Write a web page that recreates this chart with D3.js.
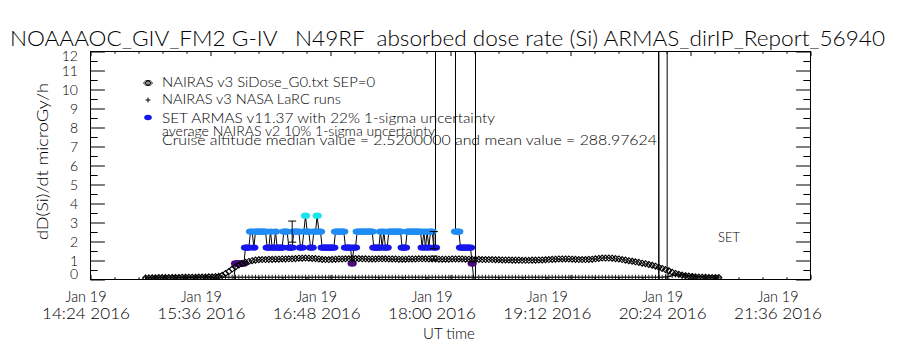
<!DOCTYPE html>
<html>
<head>
<meta charset="utf-8">
<script src="https://cdn.jsdelivr.net/npm/d3@7"></script>
<style>
  body { margin: 0; background: #fff; }
  svg text { font-family: Lato, "DejaVu Sans", sans-serif; font-weight: 300; fill: #000; white-space: pre; }
</style>
</head>
<body>
<div id="chart"></div>
<script>
// ---- data ----
const titleText = "NOAAAOC_GIV_FM2 G-IV   N49RF  absorbed dose rate (Si) ARMAS_dirIP_Report_56940";
const xTickTimes = ["14:24", "15:36", "16:48", "18:00", "19:12", "20:24", "21:36"];
const xTickDay = "Jan 19";
const xTickYear = "2016";
const yTickValues = [0, 1, 2, 3, 4, 5, 6, 7, 8, 9, 10, 11, 12];

const legendLabels = [
    "NAIRAS v3 SiDose_G0.txt SEP=0",
    "NAIRAS v3 NASA LaRC runs",
    "SET ARMAS v11.37 with 22% 1-sigma uncertainty",
    "average NAIRAS v2 10% 1-sigma uncertainty",
    "Cruise altitude median value = 2.5200000 and mean value = 288.97624"
];

// NAIRAS v3 SiDose, one value every 2 minutes from 14:57
const nairasStart = "14:57";
const nairasStepMin = 2;
const nairasDose = [
    0.08, 0.08, 0.09, 0.09, 0.10, 0.10, 0.10, 0.10, 0.11, 0.11, 0.11, 0.12, 0.12, 0.12, 0.12,
    0.12, 0.13, 0.13, 0.13, 0.14, 0.14, 0.15, 0.17, 0.22, 0.32, 0.42, 0.55, 0.66, 0.76, 0.84,
    0.90, 0.95, 0.99, 1.02, 1.04, 1.05, 1.05, 1.06, 1.06, 1.07, 1.07, 1.08, 1.08, 1.09, 1.09,
    1.10, 1.12, 1.12, 1.13, 1.12, 1.11, 1.10, 1.08, 1.06, 1.05, 1.05, 1.06, 1.07, 1.08, 1.08,
    1.09, 1.09, 1.10, 1.10, 1.10, 1.09, 1.09, 1.08, 1.08, 1.08, 1.09, 1.09, 1.09, 1.08, 1.08,
    1.08, 1.07, 1.07, 1.07, 1.08, 1.08, 1.08, 1.09, 1.09, 1.09, 1.08, 1.08, 1.08, 1.07, 1.07,
    1.07, 1.07, 1.08, 1.08, 1.08, 1.08, 1.07, 1.07, 1.06, 1.06, 1.06, 1.05, 1.05, 1.05, 1.05,
    1.04, 1.04, 1.03, 1.03, 1.03, 1.02, 1.02, 1.02, 1.01, 1.01, 1.01, 1.02, 1.02, 1.03, 1.03,
    1.04, 1.05, 1.06, 1.07, 1.08, 1.08, 1.08, 1.08, 1.07, 1.06, 1.05, 1.05, 1.05, 1.06, 1.07,
    1.09, 1.11, 1.13, 1.13, 1.13, 1.12, 1.10, 1.08, 1.05, 1.02, 0.99, 0.96, 0.93, 0.90, 0.86,
    0.83, 0.79, 0.75, 0.70, 0.64, 0.58, 0.52, 0.46, 0.38, 0.32, 0.27, 0.23, 0.20, 0.18, 0.16,
    0.14, 0.13, 0.12, 0.12, 0.11, 0.10, 0.10, 0.10
];

// NAIRAS v3 NASA LaRC runs, same time steps
const larcDose = [
    0.12, 0.12, 0.12, 0.12, 0.12, 0.12, 0.12, 0.12, 0.12, 0.12, 0.12, 0.12, 0.12, 0.12, 0.12,
    0.12, 0.12, 0.12, 0.12, 0.12, 0.12, 0.12, 0.12, 0.12, 0.12, 0.12, 0.12, 0.12, 0.12, 0.12,
    0.12, 0.12, 0.12, 0.12, 0.12, 0.12, 0.12, 0.12, 0.12, 0.12, 0.12, 0.12, 0.12, 0.12, 0.12,
    0.12, 0.12, 0.12, 0.12, 0.12, 0.12, 0.12, 0.12, 0.12, 0.12, 0.12, 0.12, 0.12, 0.12, 0.12,
    0.12, 0.12, 0.12, 0.12, 0.12, 0.12, 0.12, 0.12, 0.12, 0.12, 0.12, 0.12, 0.12, 0.12, 0.12,
    0.12, 0.12, 0.12, 0.12, 0.12, 0.12, 0.12, 0.12, 0.12, 0.12, 0.12, 0.12, 0.12, 0.12, 0.12,
    0.12, 0.12, 0.12, 0.12, 0.12, 0.12, 0.12, 0.12, 0.12, 0.12, 0.12, 0.12, 0.12, 0.12, 0.12,
    0.12, 0.12, 0.12, 0.12, 0.12, 0.12, 0.12, 0.12, 0.12, 0.12, 0.12, 0.12, 0.12, 0.12, 0.12,
    0.12, 0.12, 0.12, 0.12, 0.12, 0.12, 0.12, 0.12, 0.12, 0.12, 0.12, 0.12, 0.12, 0.12, 0.12,
    0.12, 0.12, 0.12, 0.12, 0.12, 0.12, 0.12, 0.12, 0.12, 0.12, 0.12, 0.12, 0.12, 0.12, 0.12,
    0.12, 0.12, 0.12, 0.12, 0.12, 0.12, 0.14, 0.16, 0.20, 0.24, 0.26, 0.24, 0.22, 0.20, 0.18,
    0.16, 0.15, 0.14, 0.13, 0.12, 0.12, 0.12, 0.12
];

// SET ARMAS, one value per minute from 15:50 (9999 = fill value, off scale)
const armasStart = "15:50";
const armasStepMin = 1;
const armasDose = [
    0, 0.84, 0.84, 0.84, 0.84, 0.84, 0.84, 1.68, 1.68, 1.68,
    2.52, 2.52, 1.68, 2.52, 2.52, 2.52, 2.52, 2.52, 2.52, 2.52,
    1.68, 1.68, 2.52, 1.68, 1.68, 2.52, 1.68, 1.68, 1.68, 1.68,
    2.52, 2.52, 2.52, 1.68, 1.68, 1.68, 2.52, 2.52, 2.52, 2.52,
    1.68, 1.68, 2.52, 3.36, 2.52, 2.52, 1.68, 1.68, 2.52, 2.52,
    3.36, 2.52, 2.52, 1.68, 1.68, 1.68, 1.68, 1.68, 1.68, 1.68,
    1.68, 2.52, 2.52, 2.52, 2.52, 2.52, 2.52, 1.68, 1.68, 1.68,
    1.68, 0.84, 1.68, 1.68, 2.52, 2.52, 2.52, 2.52, 2.52, 2.52,
    2.52, 2.52, 2.52, 2.52, 1.68, 1.68, 1.68, 1.68, 2.52, 1.68,
    2.52, 1.68, 1.68, 2.52, 2.52, 2.52, 2.52, 2.52, 2.52, 2.52,
    2.52, 1.68, 1.68, 1.68, 2.52, 2.52, 2.52, 2.52, 2.52, 2.52,
    2.52, 2.52, 2.52, 1.68, 2.52, 1.68, 2.52, 1.68, 2.52, 2.52,
    1.68, 1.68, 9999, 9999, 9999, 9999, 9999, 9999, 9999, 9999,
    9999, 9999, 9999, 2.52, 2.52, 2.52, 1.68, 1.68, 1.68, 1.68,
    1.68, 1.68, 1.68, 0.84, 0, 0, 9999
];
const armasTailTimes = ["20:05", "20:07", "20:10", "20:14", "20:18", "20:22", "20:26", "20:30"];
const armasTailDose = [0, 9999, 0, 0, 0, 0, 0, 0];

// error bars
const armasErrTimes = ["16:25", "17:50"];
const armasErrDose = [2.52, 2.07];
const armasSigma = 0.22;
const nairasV2Times = ["17:50"];
const nairasV2Dose = [1.12];
const nairasV2Sigma = 0.10;

// helpers
const parseUT = s => {
    const [h, m] = s.split(":").map(Number);
    return new Date(Date.UTC(2016, 0, 19, h, m));
};
const addMinutes = (d, m) => new Date(d.getTime() + m * 60000);

class DoseRateChart {
    constructor(containerId) {
        this.container = d3.select(`#${containerId}`);
        this.width = 900;
        this.height = 350;
        this.plot = {left: 90.5, right: 810.5, top: 51.5, bottom: 279.5};
        this.font = 'Lato, "DejaVu Sans", sans-serif';

        this.svg = this.container.append('svg')
            .attr('width', this.width)
            .attr('height', this.height);

        const tFirst = parseUT(xTickTimes[0]);
        const tLast = parseUT(xTickTimes[xTickTimes.length - 1]);
        this.x = d3.scaleUtc()
            .domain([tFirst, tLast])
            .range([this.plot.left, this.plot.right]);
        // the time labels sit a little left of their ticks, drifting across the axis
        this.xLabel = d3.scaleUtc()
            .domain([tFirst, tLast])
            .range([86, 778]);
        this.y = d3.scaleLinear()
            .domain([0, 12])
            .range([this.plot.bottom, this.plot.top]);

        this.colour = d3.scaleThreshold()
            .domain([0.4, 1.2, 2.1, 3.0, 50])
            .range(['none', '#4a0c7c', '#1616ec', '#1e8cf4', '#18e4f0', 'none']);

        this.drawTexts();
        this.drawAxes();
        this.drawSeries();
        this.drawLegend();
    }

    fitText(sel, w) {
        return sel.attr('textLength', w).attr('lengthAdjust', 'spacingAndGlyphs');
    }

    drawTexts() {
        this.fitText(this.svg.append('text')
            .attr('x', 10).attr('y', 46)
            .attr('font-size', 21)
            .text(titleText), 875);

        this.fitText(this.svg.append('text')
            .attr('transform', 'rotate(-90)')
            .attr('x', -161.5).attr('y', 48)
            .attr('text-anchor', 'middle')
            .attr('font-size', 16)
            .text('dD(Si)/dt microGy/h'), 157);

        this.svg.append('text')
            .attr('x', 449).attr('y', 339)
            .attr('text-anchor', 'middle')
            .attr('font-size', 15)
            .text('UT time');

        this.fitText(this.svg.append('text')
            .attr('x', 718).attr('y', 242)
            .attr('font-size', 13)
            .text('SET'), 22);
    }

    drawAxes() {
        const p = this.plot;
        const start = parseUT(xTickTimes[0]);
        const majors = xTickTimes.map(parseUT);
        const minors = d3.range(0, 31).map(i => addMinutes(start, i * 14.4))
            .filter((d, i) => i % 5 !== 0);
        const yMinors = d3.range(0.5, 12, 1);

        const strip = g => {
            g.select('.domain').remove();
            g.selectAll('line').attr('stroke', '#000');
        };

        // x axes, ticks pointing inward
        this.svg.append('g').attr('transform', `translate(0,${p.bottom})`)
            .call(d3.axisBottom(this.x).tickValues(majors).tickSizeInner(-4.6).tickSizeOuter(0).tickFormat(''))
            .call(strip);
        this.svg.append('g').attr('transform', `translate(0,${p.bottom})`)
            .call(d3.axisBottom(this.x).tickValues(minors).tickSizeInner(-2.3).tickSizeOuter(0).tickFormat(''))
            .call(strip);
        this.svg.append('g').attr('transform', `translate(0,${p.top})`)
            .call(d3.axisTop(this.x).tickValues(majors).tickSizeInner(-4.6).tickSizeOuter(0).tickFormat(''))
            .call(strip);
        this.svg.append('g').attr('transform', `translate(0,${p.top})`)
            .call(d3.axisTop(this.x).tickValues(minors).tickSizeInner(-2.3).tickSizeOuter(0).tickFormat(''))
            .call(strip);

        // y axes
        const yLeft = this.svg.append('g').attr('transform', `translate(${p.left},0)`)
            .call(d3.axisLeft(this.y).tickValues(yTickValues).tickSizeInner(-14.4).tickSizeOuter(0).tickPadding(12.5))
            .call(strip);
        yLeft.selectAll('text')
            .attr('font-family', this.font)
            .attr('font-size', 14)
            .attr('dy', d => d === 0 ? '-0.08em' : d === 12 ? '0.66em' : '0.34em');
        this.svg.append('g').attr('transform', `translate(${p.left},0)`)
            .call(d3.axisLeft(this.y).tickValues(yMinors).tickSizeInner(-7.2).tickSizeOuter(0).tickFormat(''))
            .call(strip);
        this.svg.append('g').attr('transform', `translate(${p.right},0)`)
            .call(d3.axisRight(this.y).tickValues(yTickValues).tickSizeInner(-14.4).tickSizeOuter(0).tickFormat(''))
            .call(strip);
        this.svg.append('g').attr('transform', `translate(${p.right},0)`)
            .call(d3.axisRight(this.y).tickValues(yMinors).tickSizeInner(-7.2).tickSizeOuter(0).tickFormat(''))
            .call(strip);

        // frame
        this.svg.append('rect')
            .attr('x', p.left).attr('y', p.top)
            .attr('width', p.right - p.left).attr('height', p.bottom - p.top)
            .attr('fill', 'none').attr('stroke', '#000');

        // two-line time labels
        const labels = this.svg.append('g').selectAll('text')
            .data(xTickTimes)
            .join('text')
            .attr('text-anchor', 'middle')
            .attr('font-size', 15)
            .attr('transform', d => `translate(${this.xLabel(parseUT(d))},0)`);
        this.fitText(labels.append('tspan').attr('x', 0).attr('y', 302).text(xTickDay), 41);
        this.fitText(labels.append('tspan').attr('x', 0).attr('y', 319).text(d => `${d} ${xTickYear}`), 88);
    }

    drawSeries() {
        const p = this.plot;
        this.svg.append('clipPath').attr('id', 'plot-clip')
            .append('rect')
            .attr('x', p.left).attr('y', p.top)
            .attr('width', p.right - p.left).attr('height', p.bottom - p.top);
        const g = this.svg.append('g').attr('clip-path', 'url(#plot-clip)');

        const t0 = parseUT(armasStart);
        const armas = armasDose.map((v, i) => ({t: addMinutes(t0, i * armasStepMin), v}))
            .concat(armasTailTimes.map((t, i) => ({t: parseUT(t), v: armasTailDose[i]})));

        const n0 = parseUT(nairasStart);
        const nairas = nairasDose.map((v, i) => ({t: addMinutes(n0, i * nairasStepMin), v}));
        const larc = larcDose.map((v, i) => ({t: addMinutes(n0, i * nairasStepMin), v}));

        // LaRC plus markers
        g.append('g').selectAll('path')
            .data(larc)
            .join('path')
            .attr('transform', d => `translate(${this.x(d.t)},${this.y(d.v)})`)
            .attr('d', 'M-2.5,0H2.5M0,-2.5V2.5')
            .attr('stroke', '#000').attr('stroke-width', 0.9).attr('fill', 'none');

        // ARMAS connecting line
        g.append('path')
            .datum(armas)
            .attr('d', d3.line().x(d => this.x(d.t)).y(d => this.y(d.v)))
            .attr('fill', 'none').attr('stroke', '#000').attr('stroke-width', 1);

        // ARMAS points coloured by value
        g.append('g').selectAll('ellipse')
            .data(armas.filter(d => this.colour(d.v) !== 'none'))
            .join('ellipse')
            .attr('cx', d => this.x(d.t))
            .attr('cy', d => this.y(d.v))
            .attr('rx', 4.6).attr('ry', 3.2)
            .attr('fill', d => this.colour(d.v));

        // error bars
        const errBar = (sel, times, vals, sigma, cap) => {
            const data = times.map((t, i) => ({t: parseUT(t), lo: vals[i] * (1 - sigma), hi: vals[i] * (1 + sigma)}));
            const e = sel.append('g').attr('stroke', '#000').attr('stroke-width', 1)
                .selectAll('g').data(data).join('g');
            e.append('line')
                .attr('x1', d => this.x(d.t)).attr('x2', d => this.x(d.t))
                .attr('y1', d => this.y(d.lo)).attr('y2', d => this.y(d.hi));
            e.append('line')
                .attr('x1', d => this.x(d.t) - cap).attr('x2', d => this.x(d.t) + cap)
                .attr('y1', d => this.y(d.lo)).attr('y2', d => this.y(d.lo));
            e.append('line')
                .attr('x1', d => this.x(d.t) - cap).attr('x2', d => this.x(d.t) + cap)
                .attr('y1', d => this.y(d.hi)).attr('y2', d => this.y(d.hi));
        };
        errBar(g, armasErrTimes, armasErrDose, armasSigma, 4);
        errBar(g, nairasV2Times, nairasV2Dose, nairasV2Sigma, 3.5);

        // NAIRAS diamonds
        g.append('g').selectAll('path')
            .data(nairas)
            .join('path')
            .attr('transform', d => `translate(${this.x(d.t)},${this.y(d.v)})`)
            .attr('d', 'M0,-3L3,0L0,3L-3,0Z')
            .attr('stroke', '#000').attr('stroke-width', 1.1).attr('fill', 'none');
    }

    drawLegend() {
        const rows = [87, 104, 123, 136, 145];
        const widths = [213, 179, 333, 273, 495];
        const lg = this.svg.append('g');

        lg.selectAll('text')
            .data(legendLabels)
            .join('text')
            .attr('x', 162)
            .attr('y', (d, i) => rows[i])
            .attr('font-size', 13)
            .attr('textLength', (d, i) => widths[i])
            .attr('lengthAdjust', 'spacingAndGlyphs')
            .text(d => d);

        // symbols
        [-1.5, 0, 1.5].forEach(dx => {
            lg.append('path')
                .attr('transform', `translate(${148 + dx},83)`)
                .attr('d', 'M0,-3L3,0L0,3L-3,0Z')
                .attr('stroke', '#000').attr('stroke-width', 0.9).attr('fill', 'none');
        });
        lg.append('path')
            .attr('transform', 'translate(148,100)')
            .attr('d', 'M-2.5,0H2.5M0,-2.5V2.5')
            .attr('stroke', '#000').attr('fill', 'none');
        lg.append('ellipse')
            .attr('cx', 148).attr('cy', 117.5)
            .attr('rx', 3.8).attr('ry', 2.8)
            .attr('fill', '#1616ec');
    }
}

const chart = new DoseRateChart('chart');
</script>
</body>
</html>
